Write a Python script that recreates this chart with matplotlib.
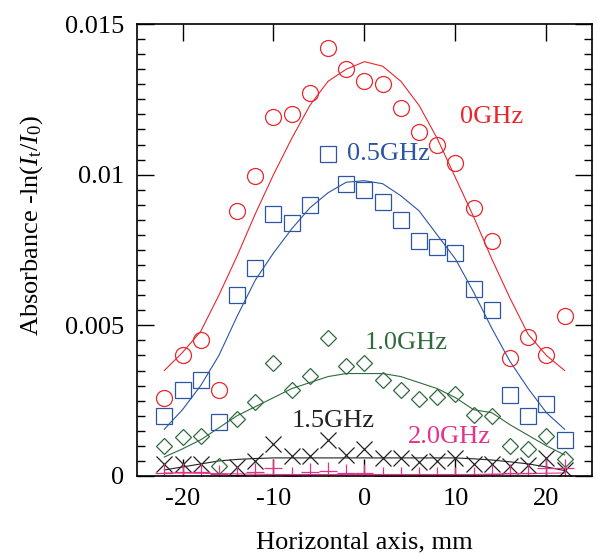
import matplotlib
matplotlib.use('Agg')
import matplotlib.pyplot as plt
import numpy as np

plt.rcParams['font.family'] = 'Liberation Serif'
plt.rcParams['mathtext.fontset'] = 'custom'
plt.rcParams['mathtext.rm'] = 'Liberation Serif'
plt.rcParams['mathtext.it'] = 'Liberation Serif:italic'
plt.rcParams['axes.unicode_minus'] = False

# horizontal position, mm
pos = [-22, -20, -18, -16, -14, -12, -10, -8, -6, -4, -2, 0,
       2, 4, 6, 8, 10, 12, 14, 16, 18, 20, 22]

# measured absorbance
abs_0 = [0.0026, 0.0040, 0.0045, 0.00286, 0.0088, 0.00995, 0.0119, 0.0120,
         0.0127, 0.0142, 0.0135, 0.0131, 0.0130, 0.0122, 0.0114, 0.0110,
         0.0104, 0.0089, 0.0078, 0.0039, 0.0046, 0.0040, 0.0053]
abs_05 = [0.0020, 0.00286, 0.0032, 0.0018, 0.0060, 0.0069, 0.0087, 0.0084,
          0.0090, 0.0107, 0.0097, 0.0095, 0.0091, 0.0085, 0.0078, 0.0076,
          0.0074, 0.0062, 0.0055, 0.0027, 0.0020, 0.0024, 0.0012]
abs_10 = [0.00098, 0.00129, 0.00132, 0.00033, 0.0019, 0.00245, 0.00376,
          0.00284, 0.00331, 0.00459, 0.00364, 0.00376, 0.0032, 0.00286,
          0.00254, 0.00262, 0.00273, 0.00201, 0.00198, 0.00098, 0.0009,
          0.00132, 0.00057]
pos_15 = [-22, -20, -18, -14, -12, -10, -8, -6, -4, -2, 0,
          2, 4, 6, 8, 10, 12, 14, 16, 18, 20, 22]
abs_15 = [0.0004, 0.0004, 0.0004, 0.0003, 0.0005, 0.00107, 0.00065, 0.00065,
          0.0012, 0.0007, 0.0009, 0.0006, 0.0006, 0.00045, 0.0005, 0.0006,
          0.0004, 0.0004, 0.00032, 0.00035, 0.0006, 0.0002]
abs_20 = [0.0001, 0.00012, 0.00012, 0.00008, 0.00002, 0.00012, 0.00025, 0.0,
          0.00012, 0.00015, 0.0001, 0.0001, 0.0, 0.0, 0.0, 0.0,
          0.0, 0.0, 0.00005, 0.0001, 0.0001, 0.00025, 0.00025]

# fitted curves
fit_0 = [0.0035, 0.0041, 0.0048, 0.0060, 0.0073, 0.0087, 0.0100, 0.0112,
         0.0123, 0.0131, 0.0135, 0.01375, 0.0136, 0.0131, 0.0123, 0.0112,
         0.0099, 0.0086, 0.0072, 0.0059, 0.0047, 0.0040, 0.0035]
fit_05 = [0.00155, 0.0022, 0.0030, 0.0040, 0.0053, 0.0065, 0.0074, 0.0082,
          0.0089, 0.0094, 0.00975, 0.0098, 0.0097, 0.0093, 0.0088, 0.0080,
          0.0072, 0.0061, 0.0049, 0.0038, 0.0029, 0.0021, 0.00155]
fit_10 = [0.00063, 0.0009, 0.0012, 0.0016, 0.0020, 0.0023, 0.0026, 0.0029,
          0.0031, 0.0033, 0.0034, 0.0034, 0.0034, 0.0033, 0.0031, 0.0029,
          0.0026, 0.0022, 0.0021, 0.0017, 0.00135, 0.0010, 0.0007]
fit_15 = [0.0002, 0.0003, 0.0004, 0.0005, 0.00055, 0.00058, 0.0006, 0.0006,
          0.0006, 0.0006, 0.0006, 0.0006, 0.0006, 0.0006, 0.0006, 0.0006,
          0.0006, 0.00057, 0.00053, 0.00047, 0.0004, 0.0003, 0.00018]
fit_20 = [0.0001, 0.0001, 0.00009, 0.00008, 0.00007, 0.00006, 0.00005,
          0.00005, 0.00005, 0.00005, 0.00005, 0.00005, 0.00005, 0.00005,
          0.00005, 0.00005, 0.00005, 0.00005, 0.00006, 0.00007, 0.00008,
          0.00009, 0.0001]

red = '#e8262d'
blue = '#2b55a5'
green = '#2f6b3c'
black = '#222222'
pink = '#e8308a'

fig = plt.figure(figsize=(5.97, 5.56), dpi=100)
ax = fig.add_axes([0.2295, 0.1439, 0.762, 0.8129])

lw = 0.8
ax.plot(pos, fit_0, color=red, lw=lw)
ax.plot(pos, fit_05, color=blue, lw=lw)
ax.plot(pos, fit_10, color=green, lw=lw)
ax.plot(pos, fit_15, color=black, lw=lw)
ax.plot(pos, fit_20, color=pink, lw=lw)

ax.plot(pos, abs_0, 'o', ms=11.5, mfc='none', mec=red, mew=0.9)
ax.plot(pos, abs_05, 's', ms=11.5, mfc='none', mec=blue, mew=0.9)
ax.plot(pos, abs_10, 'D', ms=8, mfc='none', mec=green, mew=0.9)
ax.plot(pos_15, abs_15, 'x', ms=11.5, color=black, mew=0.9)
ax.plot(pos, abs_20, '+', ms=13, color=pink, mew=0.9)

fs = 19
ax.text(10.5, 0.0119, '0GHz', color=red, fontsize=fs, va='center')
ax.text(-1.9, 0.0107, '0.5GHz', color=blue, fontsize=fs, va='center')
ax.text(0, 0.0044, '1.0GHz', color=green, fontsize=fs, va='center')
ax.text(-8.05, 0.00184, '1.5GHz', color=black, fontsize=fs, va='center')
ax.text(4.75, 0.00128, '2.0GHz', color=pink, fontsize=fs, va='center')

ax.set_xlim(-25, 25)
ax.set_ylim(0, 0.015)
ax.set_xticks([-20, -10, 0, 10, 20])
ax.set_xticklabels(['-20', '-10', '0', '10', '20'])
ax.set_yticks([0, 0.005, 0.01, 0.015])
ax.set_yticklabels(['0', '0.005', '0.01', '0.015'])
ax.set_yticks(np.arange(0, 0.0151, 0.0005), minor=True)
ax.tick_params(axis='both', which='major', direction='in', length=12,
               width=1, top=True, right=True, labelsize=fs, pad=9)
ax.tick_params(axis='y', which='minor', direction='in', length=6,
               width=1, right=True)
for s in ax.spines.values():
    s.set_linewidth(1.2)

ax.set_xlabel('Horizontal axis, mm', fontsize=fs, va='center')
ax.xaxis.set_label_coords(0.5, -0.148)
ax.set_ylabel(r'Absorbance -ln($I_\mathrm{t}/I_\mathrm{0}$)', fontsize=fs,
              va='center')
ax.yaxis.set_label_coords(-0.231, 0.555)

fig.savefig('out.png', dpi=100)
